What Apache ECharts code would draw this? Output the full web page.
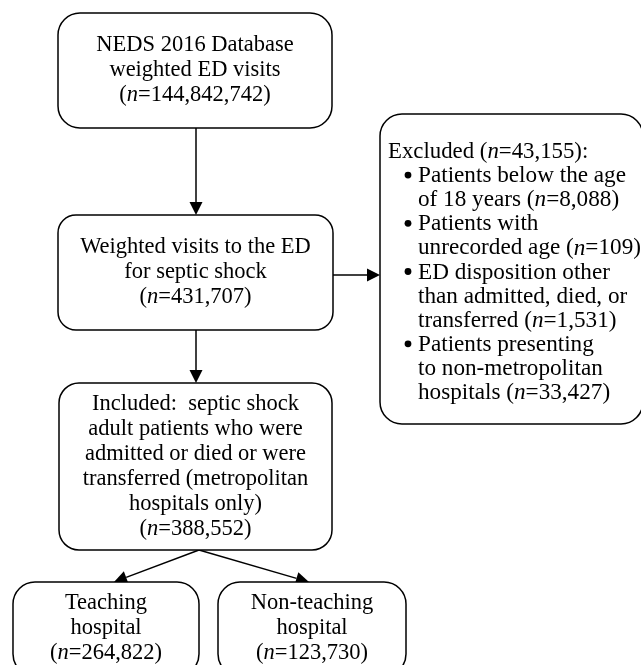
<!DOCTYPE html>
<html>
<head>
<meta charset="utf-8">
<script src="https://cdn.jsdelivr.net/npm/echarts@6/dist/echarts.min.js"></script>
<style>
  html, body { margin: 0; padding: 0; background: #fff; }
  #flow { width: 641px; height: 665px; }
</style>
</head>
<body>
<div id="flow"></div>
<script>
// box texts (n counts kept apart)
var boxLabels = [
  ["NEDS 2016 Database", "weighted ED visits"],
  ["Weighted visits to the ED", "for septic shock"],
  ["Excluded"],
  ["Included:  septic shock", "adult patients who were", "admitted or died or were",
   "transferred (metropolitan", "hospitals only)"],
  ["Teaching", "hospital"],
  ["Non-teaching", "hospital"]
];
var boxCounts = ["144,842,742", "431,707", "43,155", "388,552", "264,822", "123,730"];

// exclusion reasons for the side box
var exclReasons = [
  ["Patients below the age", "of 18 years"],
  ["Patients with", "unrecorded age"],
  ["ED disposition other", "than admitted, died, or", "transferred"],
  ["Patients presenting", "to non-metropolitan", "hospitals"]
];
var exclCounts = ["8,088", "109", "1,531", "33,427"];

// from -> to
var links = [[0, 1], [1, 2], [1, 3], [3, 4], [3, 5]];

// layout (pixels): x0, y0, x1, y1, corner radius
var boxLayout = [
  [58, 13, 332, 128, 22],
  [58, 215, 333, 330, 18],
  [380, 114, 643, 424, 22],
  [59, 383, 332, 550, 20],
  [13, 582, 199, 676, 22],
  [218, 582, 406, 676, 22]
];
// arrow start / end points
var linkLayout = [
  [[196, 128], [196, 215]],
  [[333, 275], [380, 275]],
  [[196, 330], [196, 383]],
  [[199, 550], [114, 582]],
  [[199, 550], [309, 582]]
];

var FONT = "'Liberation Serif', 'Times New Roman', serif";
var FS = 22.5;
var LH = 25;

function richStyle(x, y, text, align, fs) {
  fs = fs || FS;
  return {
    text: text, x: x, y: y, fill: "#000",
    fontSize: fs, fontFamily: FONT,
    align: align || "center", verticalAlign: "middle",
    rich: {
      it: { fontSize: fs, fontFamily: FONT, fontStyle: "italic", fill: "#000" },
      r: { fontSize: fs, fontFamily: FONT, fill: "#000" }
    }
  };
}
function nText(count) {
  return "({it|n}{r|=" + count + ")}";
}

var myChart = echarts.init(document.getElementById("flow"));

function renderBox(params, api) {
  var i = api.value(0);
  var b = boxLayout[i];
  var p0 = api.coord([b[0], b[1]]);
  var p1 = api.coord([b[2], b[3]]);
  var children = [{
    type: "rect",
    shape: { x: p0[0], y: p0[1], width: p1[0] - p0[0], height: p1[1] - p0[1], r: b[4] },
    style: { fill: "#fff", stroke: "#000", lineWidth: 1.5 }
  }];

  if (i === 2) {
    // excluded box: left aligned, bulleted
    var y = p0[1] + 38;
    var xh = p0[0] + 8;
    children.push({ type: "text", style: richStyle(xh, y, "{r|" + boxLabels[2][0] + " (}{it|n}{r|=" + boxCounts[2] + "):}", "left", 22.8) });
    var ls = 24.1;
    exclReasons.forEach(function (reason, k) {
      reason.forEach(function (line, j) {
        y += ls;
        var txt = "{r|" + line + "}";
        if (j === reason.length - 1) txt = "{r|" + line + " }" + nText(exclCounts[k]);
        children.push({ type: "text", style: richStyle(p0[0] + 38, y, txt, "left", 23.2) });
        if (j === 0) {
          children.push({ type: "circle", shape: { cx: p0[0] + 28, cy: y - 1, r: 3.4 }, style: { fill: "#000" } });
        }
      });
    });
  } else {
    var lines = boxLabels[i].map(function (l) { return "{r|" + l + "}"; });
    lines.push(nText(boxCounts[i]));
    var cx = (p0[0] + p1[0]) / 2;
    var cy = (p0[1] + p1[1]) / 2;
    if (i >= 4) cy = p0[1] + 21 + LH; // bottom boxes run off the page
    var n = lines.length;
    lines.forEach(function (t, k) {
      children.push({ type: "text", style: richStyle(cx, cy + (k - (n - 1) / 2) * LH, t) });
    });
  }
  return { type: "group", children: children };
}

function renderLink(params, api) {
  var l = linkLayout[api.value(0)];
  var a = api.coord(l[0]);
  var b = api.coord(l[1]);
  var dx = b[0] - a[0], dy = b[1] - a[1];
  var len = Math.sqrt(dx * dx + dy * dy);
  var ux = dx / len, uy = dy / len;
  var hl = 13, hw = 6.5;
  var bx = b[0] - ux * hl, by = b[1] - uy * hl;
  return {
    type: "group",
    children: [
      { type: "line", shape: { x1: a[0], y1: a[1], x2: bx, y2: by }, style: { stroke: "#000", lineWidth: 1.5 } },
      {
        type: "polygon",
        shape: { points: [[b[0], b[1]], [bx - uy * hw, by + ux * hw], [bx + uy * hw, by - ux * hw]] },
        style: { fill: "#000" }
      }
    ]
  };
}

var option = {
  animation: false,
  grid: { left: 0, right: 0, top: 0, bottom: 0 },
  xAxis: { type: "value", min: 0, max: 641, show: false },
  yAxis: { type: "value", min: 0, max: 665, inverse: true, show: false },
  series: [
    {
      type: "custom",
      renderItem: renderLink,
      data: links.map(function (l, k) { return [k]; }),
      z: 1
    },
    {
      type: "custom",
      renderItem: renderBox,
      data: boxLabels.map(function (l, k) { return [k]; }),
      z: 2
    }
  ]
};
myChart.setOption(option);
window.addEventListener("resize", function () {
  myChart.resize();
});
</script>
</body>
</html>
